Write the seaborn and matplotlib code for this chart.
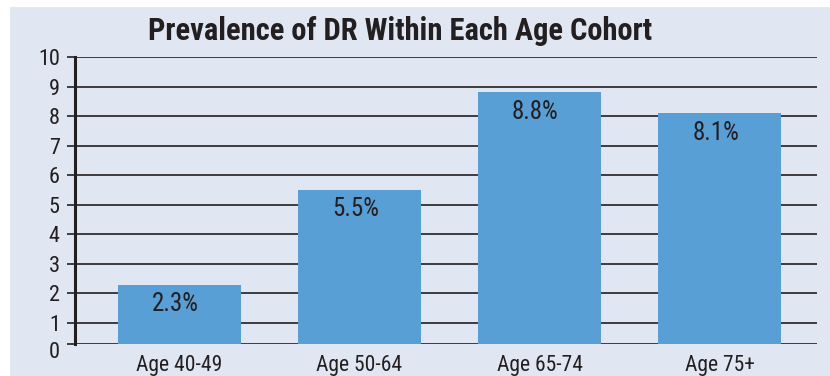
import matplotlib
matplotlib.use("Agg")
import matplotlib.pyplot as plt
import matplotlib.transforms as mtransforms
from matplotlib import font_manager
from matplotlib.patches import Rectangle
import seaborn as sns
import pandas as pd

# Chart data
cohorts = ["Age 40-49", "Age 50-64", "Age 65-74", "Age 75+"]
prevalence = [2.3, 5.5, 8.8, 8.1]
value_labels = ["2.3%", "5.5%", "8.8%", "8.1%"]
y_ticks = [1, 2, 3, 4, 5, 6, 7, 8, 9, 10]
title = "Prevalence of DR Within Each Age Cohort"

BG = "#e0e7f3"
BAR = "#579fd5"
INK = "#231f20"


def pick_narrow_font():
    """Return (family, stretch) for the narrowest sans available."""
    entries = font_manager.fontManager.ttflist
    names = {f.name for f in entries}
    for fam in ["Liberation Sans Narrow", "Roboto Condensed", "Open Sans Condensed",
                "Noto Sans Condensed", "DejaVu Sans Condensed"]:
        if fam in names:
            return fam, "normal"
    for fam in ["Noto Sans", "DejaVu Sans", "Open Sans", "Roboto"]:
        for f in entries:
            if f.name == fam and str(f.stretch) in ("condensed", "semi-condensed",
                                                     "extra-condensed", "75", "87", "62"):
                return fam, "condensed"
    return "Liberation Sans", "normal"


NARROW, STRETCH = pick_narrow_font()

sns.set_theme(style="white")
plt.rcParams["font.family"] = [NARROW, "DejaVu Sans"]
plt.rcParams["font.stretch"] = STRETCH

df = pd.DataFrame({"cohort": cohorts, "prevalence": prevalence})

fig = plt.figure(figsize=(8.30, 3.76), dpi=100, facecolor="white")
# light panel behind the chart
fig.patches.append(Rectangle((10 / 830, 0), 1, 1 - 7 / 376, transform=fig.transFigure,
                             facecolor=BG, edgecolor="none", zorder=-10))

ax = fig.add_axes([75 / 830, 32 / 376, 742 / 830, 287 / 376])
ax.set_zorder(5)
ax.set_facecolor("none")

sns.barplot(data=df, x="cohort", y="prevalence", color=BAR, saturation=1,
            width=0.683, linewidth=0, edgecolor=BAR, ax=ax, zorder=3)

ax.set_xlim(-0.58, 3.54)
y0 = 0.29
ax.set_ylim(y0, 10)
ax.set_yticks([y0] + y_ticks)
ax.set_yticklabels(["0"] + [str(t) for t in y_ticks])
ax.set_axisbelow(True)
ax.yaxis.grid(True, color=INK, linewidth=1.2)
ax.xaxis.grid(False)

for side in ["top", "right", "bottom"]:
    ax.spines[side].set_visible(False)
ax.spines["left"].set_color(INK)
ax.spines["left"].set_linewidth(2.2)
ax.spines["left"].set_zorder(4)

ax.tick_params(axis="y", length=6, width=1.2, color=INK, pad=5,
               labelsize=16, labelcolor=INK, left=True)
ax.tick_params(axis="x", length=0, pad=8, labelsize=15.5, labelcolor=INK)
ax.set_xlabel("")
ax.set_ylabel("")

# nudge the zero label a little below its line
zero_lbl = ax.get_yticklabels()[0]
zero_lbl.set_transform(zero_lbl.get_transform() +
                       mtransforms.ScaledTranslation(0, -6 / 100, fig.dpi_scale_trans))

for i, (v, lbl) in enumerate(zip(prevalence, value_labels)):
    ax.annotate(lbl, xy=(i, v), xytext=(-3, -14), textcoords="offset points",
                ha="center", va="center", fontsize=18, color=INK, zorder=5)

fig.text(400 / 830, 1 - 31 / 376, title, ha="center", va="center",
         fontsize=22, fontweight="heavy", color=INK)

fig.savefig("out.png", dpi=100, facecolor=fig.get_facecolor())
